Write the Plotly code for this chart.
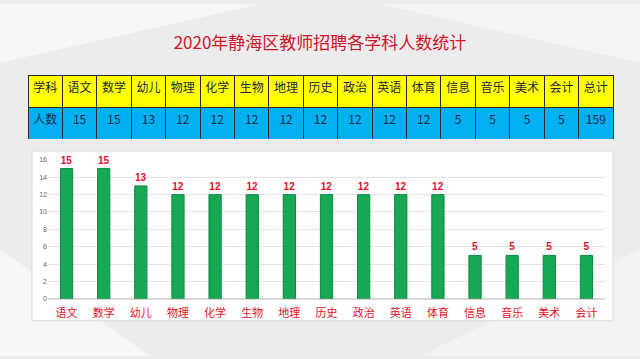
import plotly.graph_objects as go

W, H = 640, 359

title_text = "2020年静海区教师招聘各学科人数统计"
subjects = ["语文", "数学", "幼儿", "物理", "化学", "生物", "地理", "历史",
            "政治", "英语", "体育", "信息", "音乐", "美术", "会计"]
counts = [15, 15, 13, 12, 12, 12, 12, 12, 12, 12, 12, 5, 5, 5, 5]
row_header = "学科"
row_label = "人数"
total_label = "总计"
total_value = 159
y_ticks = [0, 2, 4, 6, 8, 10, 12, 14, 16]


def px_x(x):
    return x / W


def px_y(y):
    return 1 - y / H


RED = "#e3101e"
CJK = "Noto Sans CJK SC"

fig = go.Figure()

# table
header_vals = [row_header] + subjects + [total_label]
cell_vals = [[row_label]] + [[str(c)] for c in counts] + [[str(total_value)]]
fig.add_trace(go.Table(
    domain=dict(x=[px_x(28), px_x(613)], y=[px_y(138.5), px_y(72.5)]),
    columnwidth=[1] * len(header_vals),
    header=dict(values=header_vals, fill_color="#ffff00",
                line=dict(color="#2a2a2a", width=1),
                font=dict(family=CJK, size=12, color="#1c2a4a"),
                align="center", height=32),
    cells=dict(values=cell_vals, fill_color="#00b0f0",
               line=dict(color="#2a2a2a", width=1),
               font=dict(family=CJK, size=12, color="#1c2a4a"),
               align="center", height=33),
))

# bars
fig.add_trace(go.Bar(
    x=subjects, y=counts,
    marker=dict(color="#17a853", line=dict(color="#0c8a40", width=1)),
    width=0.33,
    text=[str(c) for c in counts], textposition="outside",
    textfont=dict(family="Liberation Sans, Arial", size=10, color=RED, weight="bold"),
    constraintext="none", cliponaxis=False,
    hoverinfo="x+y",
))

shapes = [
    # background light polygons
    dict(type="path", xref="paper", yref="paper",
         path=f"M 0 {px_y(60)} L {px_x(260)} {px_y(0)} L 0 {px_y(0)} Z",
         fillcolor="rgba(255,255,255,0.55)", line=dict(width=0), layer="below"),
    dict(type="path", xref="paper", yref="paper",
         path=f"M 0 {px_y(250)} L {px_x(150)} {px_y(359)} L 0 {px_y(359)} Z",
         fillcolor="rgba(255,255,255,0.5)", line=dict(width=0), layer="below"),
    dict(type="path", xref="paper", yref="paper",
         path=f"M {px_x(380)} {px_y(0)} L {px_x(640)} {px_y(0)} L {px_x(640)} {px_y(60)} Z",
         fillcolor="rgba(255,255,255,0.45)", line=dict(width=0), layer="below"),
    dict(type="path", xref="paper", yref="paper",
         path=f"M {px_x(420)} {px_y(359)} L {px_x(640)} {px_y(250)} L {px_x(640)} {px_y(359)} Z",
         fillcolor="rgba(255,255,255,0.35)", line=dict(width=0), layer="below"),
    # chart box
    dict(type="rect", xref="paper", yref="paper",
         x0=px_x(32), x1=px_x(613), y0=px_y(323), y1=px_y(150),
         fillcolor="#ffffff", line=dict(color="#dcdcdc", width=1), layer="below"),
]

fig.update_layout(
    width=W, height=H,
    margin=dict(l=0, r=0, t=0, b=0),
    paper_bgcolor="#ececec",
    plot_bgcolor="rgba(0,0,0,0)",
    showlegend=False,
    shapes=shapes,
    bargap=0.68,
    title=dict(text=title_text, x=0.5, xanchor="center", y=px_y(43), yanchor="middle",
               font=dict(family=CJK, size=17, color="#d0142c")),
    xaxis=dict(domain=[px_x(48), px_x(605)], showgrid=False, zeroline=False,
               showline=False, ticks="", ticklabelstandoff=6,
               tickfont=dict(family=CJK, size=11, color=RED)),
    yaxis=dict(domain=[px_y(300.7), px_y(159)], range=[0, 16],
               tickvals=y_ticks, showgrid=True, gridcolor="#e4e4e4", gridwidth=1,
               zeroline=True, zerolinecolor="#d8d8d8",
               tickfont=dict(family="Liberation Sans, Arial", size=7, color="#666666"),
               ticks="", showline=False),
)

fig.write_html("out.html")
